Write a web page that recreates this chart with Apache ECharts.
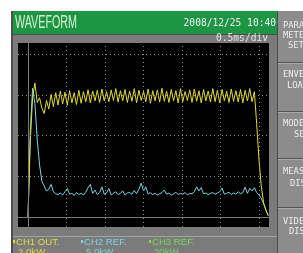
<!DOCTYPE html>
<html>
<head>
<meta charset="utf-8">
<script src="https://cdn.jsdelivr.net/npm/echarts@6/dist/echarts.min.js"></script>
<style>
    html, body { margin: 0; padding: 0; background: #fff; }
    #chart { width: 303px; height: 253px; }
</style>
</head>
<body>
<div id="chart"></div>
<script>
// sample times (ms), 0.5 ms per division
const timeMs = [
    0, 0.03, 0.06, 0.09, 0.12, 0.15, 0.18, 0.21, 0.24, 0.27,
    0.30, 0.33, 0.36, 0.39, 0.42, 0.45, 0.48, 0.51, 0.54, 0.57,
    0.60, 0.63, 0.66, 0.69, 0.72, 0.75, 0.78, 0.81, 0.84, 0.87,
    0.90, 0.93, 0.96, 0.99, 1.02, 1.05, 1.08, 1.11, 1.14, 1.17,
    1.20, 1.23, 1.26, 1.29, 1.32, 1.35, 1.38, 1.41, 1.44, 1.47,
    1.50, 1.53, 1.56, 1.59, 1.62, 1.65, 1.68, 1.71, 1.74, 1.77,
    1.80, 1.83, 1.86, 1.89, 1.92, 1.95, 1.98, 2.01, 2.04, 2.07,
    2.10, 2.13, 2.16, 2.19, 2.22, 2.25, 2.28, 2.31, 2.34, 2.37,
    2.40, 2.43, 2.46, 2.49, 2.52, 2.55, 2.58, 2.61, 2.64, 2.67,
    2.70, 2.73, 2.76, 2.79, 2.82, 2.85, 2.88, 2.91, 2.94, 2.97,
    3.00, 3.03, 3.06, 3.09, 3.12
];

// CH1 OUT. (kW, 2.0 kW/div)
const ch1Kw = [
    0, 3.7, 5.9, 6.58, 5.62, 5.85, 5.35, 5.08, 5.72, 5.3,
    6.02, 5.42, 6.1, 5.5, 6.18, 5.55, 6.12, 5.48, 6.2, 5.6,
    6.1, 5.52, 6.22, 5.58, 6.15, 5.65, 6.25, 5.6, 6.18, 5.7,
    6.22, 5.62, 6.28, 5.7, 6.15, 5.66, 6.24, 5.72, 6.3, 5.64,
    6.2, 5.7, 6.26, 5.62, 6.18, 5.68, 6.3, 5.6, 6.22, 5.72,
    6.16, 5.66, 6.28, 5.58, 6.2, 5.7, 6.24, 5.64, 6.32, 5.68,
    6.18, 5.62, 6.26, 5.7, 6.2, 5.6, 6.3, 5.66, 6.16, 5.72,
    6.24, 5.62, 6.28, 5.68, 6.2, 5.6, 6.26, 5.7, 6.18, 5.64,
    6.3, 5.66, 6.22, 5.6, 6.26, 5.7, 6.18, 5.62, 6.28, 5.68,
    6.2, 5.64, 6.26, 5.6, 6.22, 5.7, 6.3, 5.66, 6.15, 4.56,
    2.8, 1.52, 0.69, 0.34, 0.05
];

// CH2 REF. (kW, 5.0 kW/div)
const ch2Kw = [
    0, 10.7, 15.8, 13.9, 9.5, 6.4, 4.4, 3.8, 3.2, 3.4,
    4.0, 3.1, 2.85, 2.75, 2.95, 2.7, 3.1, 3.5, 2.8, 2.9,
    2.65, 3.0, 2.75, 2.9, 2.7, 3.05, 3.6, 4.0, 2.9, 3.3,
    2.75, 3.0, 3.7, 2.8, 2.95, 3.5, 2.7, 2.9, 3.1, 2.75,
    2.9, 3.2, 2.7, 2.95, 3.0, 2.8, 3.25, 2.85, 3.4, 4.15,
    3.2, 3.7, 2.8, 3.0, 2.75, 2.9, 2.7, 2.85, 3.0, 3.3,
    2.8, 2.95, 2.7, 2.85, 3.05, 2.75, 2.9, 2.8, 3.0, 2.7,
    2.9, 2.85, 3.1, 3.7, 3.2, 3.6, 2.85, 2.95, 2.75, 2.9,
    3.0, 2.8, 2.95, 3.1, 3.55, 2.8, 2.9, 3.05, 2.75, 2.95,
    2.8, 3.1, 2.85, 3.0, 3.65, 2.9, 3.5, 3.2, 3.6, 3.0,
    2.7, 2.3, 1.6, 0.85, 0.25
];

// division lines of the screen
const divTimeMs = [0.5, 1.0, 1.5, 2.0, 2.5, 3.0];
const divCh1Kw = [2, 4, 6, 8];

const chart = echarts.init(document.getElementById('chart'), null, { renderer: 'canvas' });

const gridLines = [];
divTimeMs.forEach(v => gridLines.push({ xAxis: v }));
divCh1Kw.forEach(v => gridLines.push({ yAxis: v }));
// solid zero lines
gridLines.push({ xAxis: 0, lineStyle: { type: 'solid', color: '#7a7a7a' } });
gridLines.push({ yAxis: 0, lineStyle: { type: 'solid', color: '#7a7a7a' } });

const mono = '"DejaVu Sans Mono", monospace';
const sans = '"Liberation Sans", Arial, sans-serif';

// right hand soft keys
const keyLabels = [
    { text: 'PARA', x: 283, y: 25.5 }, { text: 'METE', x: 283, y: 35.5 }, { text: 'SET', x: 288, y: 46 },
    { text: 'ENVE', x: 283, y: 75 }, { text: 'LOA', x: 287, y: 86 },
    { text: 'MODE', x: 283, y: 123.5 }, { text: 'SE', x: 294, y: 134.5 },
    { text: 'MEAS', x: 283, y: 172 }, { text: 'DIS', x: 290, y: 183.5 },
    { text: 'VIDE', x: 283, y: 221.5 }, { text: 'DIS', x: 289, y: 231.5 }
];
const keySeparators = [62, 111, 158, 207];

const graphic = [
    // screen body
    { type: 'rect', z: 0, shape: { x: 11, y: 11, width: 267, height: 242 }, style: { fill: '#7b7b7b' } },
    { type: 'rect', z: 0, shape: { x: 11, y: 11, width: 2, height: 242 }, style: { fill: '#4f4f4f' } },
    // title bar
    { type: 'rect', z: 0, shape: { x: 13, y: 11, width: 264, height: 23 }, style: { fill: '#1c9643' } },
    { type: 'rect', z: 0, shape: { x: 13, y: 34, width: 264, height: 1 }, style: { fill: '#4c4c4c' } },
    // waveform area
    { type: 'rect', z: 0, shape: { x: 18, y: 43, width: 251, height: 184 }, style: { fill: '#000000' } },
    { type: 'rect', z: 0, shape: { x: 13, y: 236, width: 264, height: 1 }, style: { fill: '#a2a2a2' } },
    // soft key column
    { type: 'rect', z: 0, shape: { x: 277, y: 11, width: 26, height: 242 }, style: { fill: '#8c8c8c' } },
    { type: 'rect', z: 0, shape: { x: 277, y: 11, width: 1, height: 242 }, style: { fill: '#4a4a4a' } },
    {
        type: 'text', z: 1, x: 15, y: 22.5, scaleX: 0.565,
        style: { text: 'WAVEFORM', fill: '#d6f2d2', font: '19px ' + sans, verticalAlign: 'middle' }
    },
    {
        type: 'text', z: 1, x: 276, y: 23.5,
        style: { text: '2008/12/25 10:40', fill: '#f2f2f2', font: '9.6px ' + mono, align: 'right', verticalAlign: 'middle' }
    },
    {
        type: 'text', z: 1, x: 268, y: 38.5,
        style: { text: '0.5ms/div', fill: '#e6e6e6', font: '9.6px ' + mono, align: 'right', verticalAlign: 'middle' }
    }
];

keySeparators.forEach(y => {
    graphic.push({ type: 'rect', z: 0, shape: { x: 278, y: y, width: 25, height: 1 }, style: { fill: '#555555' } });
    graphic.push({ type: 'rect', z: 0, shape: { x: 278, y: y + 1, width: 25, height: 1 }, style: { fill: '#aaaaaa' } });
});
keyLabels.forEach(k => {
    graphic.push({
        type: 'text', z: 1, x: k.x, y: k.y,
        style: { text: k.text, fill: '#eeeeee', font: '8.8px ' + mono, verticalAlign: 'middle' }
    });
});

// channel captions at the bottom
const channels = [
    { name: 'CH1 OUT.', scale: '2.0kW', color: '#e4dc3c', x: 13 },
    { name: 'CH2 REF.', scale: '5.0kW', color: '#78d4e4', x: 81 },
    { name: 'CH3 REF.', scale: '20kW', color: '#74dc52', x: 149 }
];
channels.forEach(c => {
    graphic.push({ type: 'rect', z: 1, shape: { x: c.x, y: 240, width: 2, height: 3 }, style: { fill: c.color } });
    graphic.push({
        type: 'text', z: 1, x: c.x + 3, y: 242,
        style: { text: c.name, fill: c.color, font: '9.6px ' + sans, verticalAlign: 'middle' }
    });
    graphic.push({
        type: 'text', z: 1, x: c.x + 5, y: 252,
        style: { text: c.scale, fill: c.color, font: '9.6px ' + sans, verticalAlign: 'middle' }
    });
});

chart.setOption({
    animation: false,
    backgroundColor: '#ffffff',
    graphic: graphic,
    grid: {
        left: 18,
        top: 43,
        width: 251,
        height: 184,
        containLabel: false
    },
    xAxis: {
        type: 'value',
        min: -0.1299,
        max: 3.1299,
        show: false
    },
    yAxis: [
        { type: 'value', min: -0.491, max: 8.540, show: false },
        { type: 'value', min: -1.227, max: 21.35, show: false }
    ],
    series: [
        {
            name: 'div',
            type: 'line',
            data: [],
            z: 1,
            silent: true,
            markLine: {
                silent: true,
                symbol: ['none', 'none'],
                label: { show: false },
                lineStyle: { color: '#8c8c8c', type: [1, 3], width: 1 },
                data: gridLines
            }
        },
        {
            name: 'CH2 REF.',
            type: 'line',
            yAxisIndex: 1,
            z: 3,
            symbol: 'none',
            lineStyle: { color: '#7ad4e0', width: 1 },
            data: timeMs.map((t, i) => [t, ch2Kw[i]])
        },
        {
            name: 'CH1 OUT.',
            type: 'line',
            yAxisIndex: 0,
            z: 4,
            symbol: 'none',
            lineStyle: { color: '#e2dc2e', width: 1 },
            data: timeMs.map((t, i) => [t, ch1Kw[i]])
        }
    ]
});
</script>
</body>
</html>
